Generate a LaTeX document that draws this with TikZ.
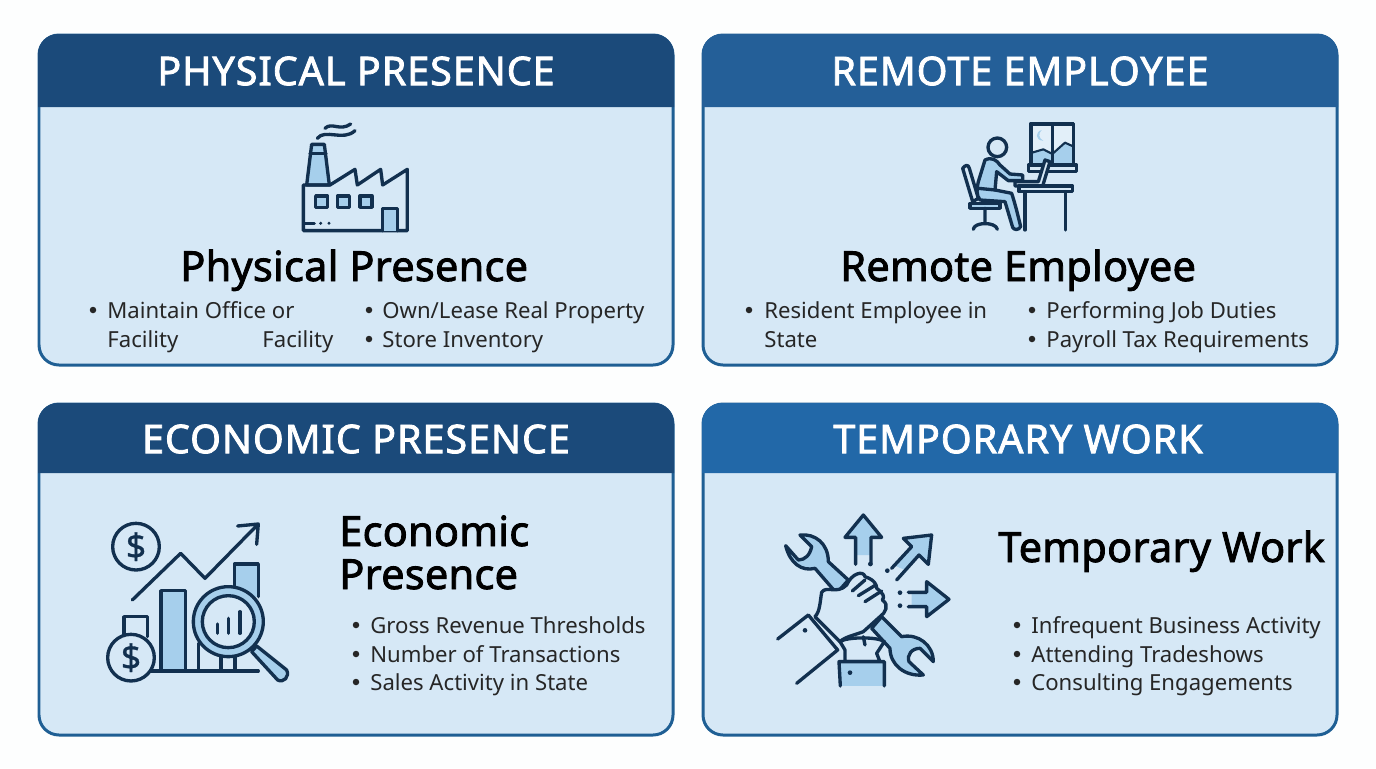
\documentclass[tikz,border=0pt]{standalone}
\usepackage{fontspec}
\setmainfont{Noto Sans}
\definecolor{pagecol}{HTML}{FDFEFE}
\definecolor{cardcol}{HTML}{D6E8F6}
\definecolor{edgecol}{HTML}{1F5F94}
\definecolor{headdark}{HTML}{1B4A7A}
\definecolor{headmid}{HTML}{245F98}
\definecolor{headlight}{HTML}{2268A8}
\definecolor{inkcol}{HTML}{12304F}
\definecolor{tintcol}{HTML}{A6CFEC}
\tikzset{
	cardbox/.style={draw=edgecol, fill=cardcol, line width=1.7pt, rounded corners=0.4cm},
	title/.style={text=white, inner sep=0pt, font=\fontsize{22.5}{24}\selectfont\addfontfeature{LetterSpace=2.4, FakeBold=2}, anchor=center},
	heading/.style={text=black, inner sep=0pt, font=\fontsize{23.6}{26}\selectfont\addfontfeature{LetterSpace=0.6, FakeBold=2}, anchor=base west},
	entry/.style={text=black!85, inner sep=0pt, font=\fontsize{12.6}{14}\selectfont, anchor=base west},
	dot/.style={circle, fill=black!85, inner sep=0pt, minimum size=0.13cm},
	ink/.style={draw=inkcol, line width=1.9pt, line join=round, line cap=round},
	tint/.style={ink, fill=tintcol},
	flat/.style={ink, fill=cardcol},
	coinmark/.style={text=inkcol, inner sep=0pt, font=\fontsize{20}{22}\selectfont\addfontfeature{FakeBold=1}}
}
\begin{document}
\begin{tikzpicture}[x=0.02cm, y=-0.02cm]
	\useasboundingbox[fill=pagecol] (0,0) rectangle (1376,768);
	
	%Cards
	\draw[cardbox] (39,35) rectangle (673,365);
	\draw[cardbox] (703,35) rectangle (1337,365);
	\draw[cardbox] (39,404) rectangle (673,735);
	\draw[cardbox] (703,404) rectangle (1337,735);
	
	%Headers
	\fill[headdark] (38,107) [rounded corners=0.4cm] -- (38,34) -- (674,34) [sharp corners] -- (674,107) -- cycle;
	\fill[headmid] (702,107) [rounded corners=0.4cm] -- (702,34) -- (1338,34) [sharp corners] -- (1338,107) -- cycle;
	\fill[headdark] (38,473) [rounded corners=0.4cm] -- (38,403) -- (674,403) [sharp corners] -- (674,473) -- cycle;
	\fill[headlight] (702,473) [rounded corners=0.4cm] -- (702,403) -- (1338,403) [sharp corners] -- (1338,473) -- cycle;
	
	\node (physTitle) at (356,71) [title]{PHYSICAL PRESENCE};
	\node (remoteTitle) at (1020,71) [title]{REMOTE EMPLOYEE};
	\node (econTitle) at (356,439) [title]{ECONOMIC PRESENCE};
	\node (tempTitle) at (1018,439) [title]{TEMPORARY WORK};
	
	%Headings
	\node (physHead) at (180,281) [heading]{Physical Presence};
	\node (remoteHead) at (840,281) [heading]{Remote Employee};
	\node (econHeadA) at (339,546) [heading]{Economic};
	\node (econHeadB) at (339,589) [heading]{Presence};
	\node (tempHead) at (998,562) [heading]{Temporary Work};
	
	%Lists of the first card
	\node (physDotA) at (93,310) [dot]{};
	\node (physLineA) at (107,318) [entry]{Maintain Office or};
	\node (physLineB) at (107,347) [entry]{Facility};
	\node (physLineC) at (262,347) [entry]{Facility};
	\node (physDotB) at (369,310) [dot]{};
	\node (physLineD) at (382,318) [entry]{Own/Lease Real Property};
	\node (physDotC) at (369,339) [dot]{};
	\node (physLineE) at (382,347) [entry]{Store Inventory};
	
	%Lists of the second card
	\node (remoteDotA) at (749,310) [dot]{};
	\node (remoteLineA) at (764,318) [entry]{Resident Employee in};
	\node (remoteLineB) at (764,347) [entry]{State};
	\node (remoteDotB) at (1032,310) [dot]{};
	\node (remoteLineC) at (1046,318) [entry]{Performing Job Duties};
	\node (remoteDotC) at (1032,339) [dot]{};
	\node (remoteLineD) at (1046,347) [entry]{Payroll Tax Requirements};
	
	%Lists of the third card
	\node (econDotA) at (356,625) [dot]{};
	\node (econLineA) at (370,633) [entry]{Gross Revenue Thresholds};
	\node (econDotB) at (356,654) [dot]{};
	\node (econLineB) at (370,662) [entry]{Number of Transactions};
	\node (econDotC) at (356,682) [dot]{};
	\node (econLineC) at (370,690) [entry]{Sales Activity in State};
	
	%Lists of the fourth card
	\node (tempDotA) at (1017,625) [dot]{};
	\node (tempLineA) at (1031,633) [entry]{Infrequent Business Activity};
	\node (tempDotB) at (1017,654) [dot]{};
	\node (tempLineB) at (1031,662) [entry]{Attending Tradeshows};
	\node (tempDotC) at (1017,682) [dot]{};
	\node (tempLineC) at (1031,690) [entry]{Consulting Engagements};
	
	%Factory
	\begin{scope}[shift={(280,110)}, scale=0.3333]
		\draw[tint] (80,225) -- (95,103) -- (133,103) -- (148,225) -- cycle;
		\draw[ink] (90,130) -- (138,130);
		\draw[ink] (70,225) -- (70,362) -- (382,362) -- (382,178) -- (308,225) -- (302,178) -- (232,225) -- (225,178) -- (150,225) -- cycle;
		\draw[tint] (107,258) rectangle (143,292);
		\draw[tint] (172,258) rectangle (208,292);
		\draw[tint] (240,258) rectangle (276,292);
		\draw[tint] (308,362) -- (308,295) -- (352,295) -- (352,362);
		\draw[ink] (72,340) -- (103,340);
		\fill[inkcol] (122,340) circle (5) (147,340) circle (5);
		\draw[ink] (135,55) .. controls (155,35) and (180,65) .. (212,42);
		\draw[ink] (112,85) .. controls (135,55) and (190,95) .. (225,62);
	\end{scope}
	
	%Person at the desk
	\begin{scope}[shift={(950,110)}, scale=0.3333]
		\draw[ink, fill=cardcol!70!white] (243,42) rectangle (370,165);
		\fill[tintcol] (246,162) -- (246,128) -- (280,118) -- (307,132) -- (345,98) -- (367,108) -- (367,162) -- cycle;
		\draw[ink, line width=1.2pt] (246,128) -- (280,118) -- (307,132) -- (345,98) -- (367,108);
		\draw[ink] (243,42) rectangle (370,165) (307,42) -- (307,165);
		\fill[tintcol] (275,60) .. controls (255,65) and (255,92) .. (280,92) .. controls (265,85) and (265,70) .. (275,60);
		\draw[flat] (235,165) rectangle (380,185);
		\draw[ink] (142,112) circle (28);
		\draw[flat] (38,175) .. controls (45,165) and (55,162) .. (58,175) -- (85,265) -- (68,275) -- cycle;
		\draw[tint] (60,280) -- (150,280) -- (150,295) -- (60,295) -- cycle;
		\draw[ink] (105,295) -- (105,335) (70,358) .. controls (72,335) and (138,335) .. (142,358);
		\draw[tint] (105,150) .. controls (125,140) and (140,150) .. (150,165) -- (180,192) -- (218,195) -- (218,212) -- (175,212) -- (140,185) -- (135,240) -- (185,250) .. controls (195,280) and (205,320) .. (212,350) .. controls (205,362) and (192,360) .. (188,352) -- (165,275) -- (90,270) .. controls (78,255) and (80,235) .. (85,215) -- cycle;
		\draw[ink] (85,235) -- (135,240);
		\draw[flat] (195,215) -- (265,215) -- (285,150) -- (300,155) -- (278,228) -- (195,228) -- cycle;
		\draw[flat] (207,228) rectangle (368,245);
		\draw[ink] (225,245) -- (225,360) (347,245) -- (347,360);
	\end{scope}
	
	%Chart with coins
	\begin{scope}[shift={(95,510)}, scale=0.3333]
		\draw[ink] (123,110) circle (70);
		\node (coinTop) at (123,110) [coinmark]{\$};
		\draw[ink] (112,270) -- (257,130) -- (330,205) -- (490,42) (428,48) -- (490,42) -- (485,103);
		\draw[ink] (87,380) -- (87,320) -- (158,320) -- (158,380);
		\draw[tint] (198,483) -- (198,242) -- (272,242) -- (272,483);
		\draw[tint] (418,260) -- (418,162) -- (490,162) -- (490,260);
		\draw[ink] (170,483) -- (490,483);
		\draw[ink] (310,483) -- (310,400) (378,483) -- (378,440) (420,483) -- (420,440);
		\draw[flat] (108,443) circle (70);
		\node (coinLow) at (108,443) [coinmark]{\$};
		\draw[tint] (470,425) -- (485,408) -- (575,480) .. controls (585,500) and (565,520) .. (548,510) -- cycle;
		\draw[tint] (400,335) circle (105);
		\draw[ink, fill=cardcol] (400,335) circle (78);
		\draw[ink] (367,342) -- (367,370) (400,325) -- (400,370) (435,305) -- (435,370);
	\end{scope}
	
	%Wrench held in a hand
	\begin{scope}[shift={(765,505)}, scale=0.3333]
		\fill[tintcol] (295,30) -- (350,97) -- (318,97) -- (318,150) -- (272,150) -- (272,97) -- (240,97) -- cycle;
		\draw[ink] (272,178) -- (272,97) -- (240,97) -- (295,30) -- (350,97) -- (318,97) -- (318,178);
		\fill[tintcol] (415,100) -- (500,90) -- (490,178) -- (462,150) -- (420,195) -- (385,180) -- (440,125) -- cycle;
		\draw[ink] (395,225) -- (462,150) -- (490,178) -- (500,90) -- (415,100) -- (440,125) -- (380,190);
		\fill[tintcol] (485,230) -- (552,283) -- (485,335) -- (485,305) -- (440,305) -- (440,262) -- (485,262) -- cycle;
		\draw[ink] (430,262) -- (485,262) -- (485,230) -- (552,283) -- (485,335) -- (485,305) -- (430,305);
		\fill[inkcol] (316,177) circle (7) (367,197) circle (7) (405,263) circle (7) (405,302) circle (7);
		\draw[tint] (215,265) -- (150,190) .. controls (110,200) and (75,175) .. (62,122) -- (100,165) .. controls (120,165) and (135,150) .. (140,125) -- (105,90) .. controls (150,85) and (190,115) .. (190,170) -- (250,225) -- cycle;
		\draw[tint] (350,335) -- (410,395) .. controls (460,385) and (505,420) .. (505,470) -- (465,430) .. controls (440,430) and (425,450) .. (432,470) -- (475,510) .. controls (420,515) and (375,480) .. (375,430) -- (320,370) -- cycle;
		\draw[flat] (170,262) .. controls (185,240) and (215,270) .. (245,240) .. controls (260,205) and (295,195) .. (300,215) .. controls (330,225) and (335,240) .. (335,250) .. controls (355,265) and (360,275) .. (352,285) .. controls (375,300) and (360,325) .. (345,335) -- (295,380) .. controls (270,390) and (240,395) .. (225,410) -- (150,335) .. controls (165,320) and (165,290) .. (170,262) -- cycle;
		\draw[ink] (262,258) -- (300,225) (280,272) -- (332,240) (300,290) -- (350,258);
		\draw[flat] (38,402) -- (130,330) -- (218,435) -- (95,535);
		\fill[inkcol] (120,376) circle (7);
		\draw[flat] (225,410) .. controls (245,395) and (340,395) .. (358,410) -- (335,445) -- (345,470) -- (240,470) -- (240,435) -- cycle;
		\draw[ink] (295,395) -- (300,420);
		\draw[tint] (226,543) -- (222,470) -- (358,470) -- (358,543);
		\fill[inkcol] (255,503) circle (7);
	\end{scope}
\end{tikzpicture}
\end{document}
